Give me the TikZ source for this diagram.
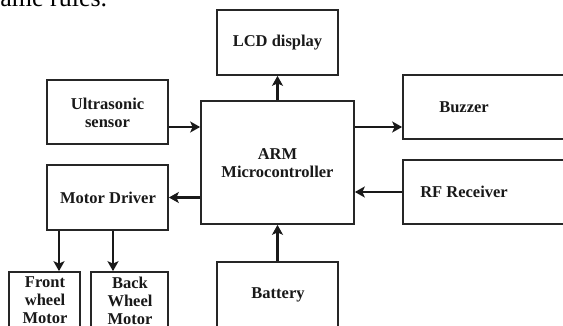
\documentclass[tikz,border=0pt]{standalone}
\usepackage{fontspec}
\setmainfont{Liberation Serif}
\usetikzlibrary{arrows.meta}
\begin{document}
\begin{tikzpicture}[x=1pt,y=-1pt,
  box/.style={draw=black!85,line width=1.7pt,rectangle,inner sep=0pt,fill=white},
  lbl/.style={font=\fontsize{16.5}{18}\selectfont\bfseries,align=center,inner sep=0pt,text=black!90},
  arr/.style={line width=2.3pt,draw=black!90,-{Stealth[length=10pt,width=11pt,inset=2.5pt]}}]
\useasboundingbox (0,0) rectangle (563,326);
\clip (0,0) rectangle (563,326);
\node[anchor=base west,font=\fontsize{26}{28}\selectfont,inner sep=0pt] (top) at (-10,7) {same rules.};
% boxes
\node[box,minimum width=121pt,minimum height=65pt] (lcd) at (277.5,42.5) {};
\node[lbl] at (277.5,43) {LCD display};
\node[box,minimum width=121pt,minimum height=64pt] (us) at (107.5,112) {};
\node[lbl] at (107.5,113) {Ultrasonic\\sensor};
\node[box,minimum width=153pt,minimum height=123pt] (arm) at (277.5,162.5) {};
\node[lbl] at (277.5,163.5) {ARM\\Microcontroller};
\node[box,minimum width=163pt,minimum height=64pt] (buz) at (484.5,107) {};
\node[lbl] at (464,107) {Buzzer};
\node[box,minimum width=163pt,minimum height=64pt] (rf) at (484.5,192) {};
\node[lbl] at (464,192) {RF Receiver};
\node[box,minimum width=121pt,minimum height=65pt] (md) at (107.5,197.5) {};
\node[lbl] at (108,198) {Motor Driver};
\node[box,minimum width=71pt,minimum height=58pt] (fw) at (44.5,301) {};
\node[lbl] at (45,300.5) {Front\\wheel\\Motor};
\node[box,minimum width=77pt,minimum height=58pt] (bw) at (129.5,301) {};
\node[lbl] at (130,300.5) {Back\\Wheel\\Motor};
\node[box,minimum width=121pt,minimum height=66pt] (bat) at (277.5,295) {};
\node[lbl] at (278,295) {Battery};
% connector anchor points
\coordinate (us1) at ([yshift=-15pt]us.east);
\coordinate (arm1) at ([yshift=35.5pt]arm.east);
\coordinate (fs) at ([xshift=-48.5pt]md.south);
\coordinate (bs) at ([xshift=5.5pt]md.south);
% arrows
\draw[arr] (arm.north) -- (lcd.south);
\draw[arr] (bat.north) -- (arm.south);
\draw[arr] (us1) -- (arm.west |- us1);
\draw[arr] (arm1) -- (buz.west |- arm1);
\draw[arr] (rf.west) -- (arm.east |- rf.west);
\draw[arr] (arm.west |- md.east) -- (md.east);
\draw[arr] (fs) -- (fw.north -| fs);
\draw[arr] (bs) -- (bw.north -| bs);
\end{tikzpicture}
\end{document}
